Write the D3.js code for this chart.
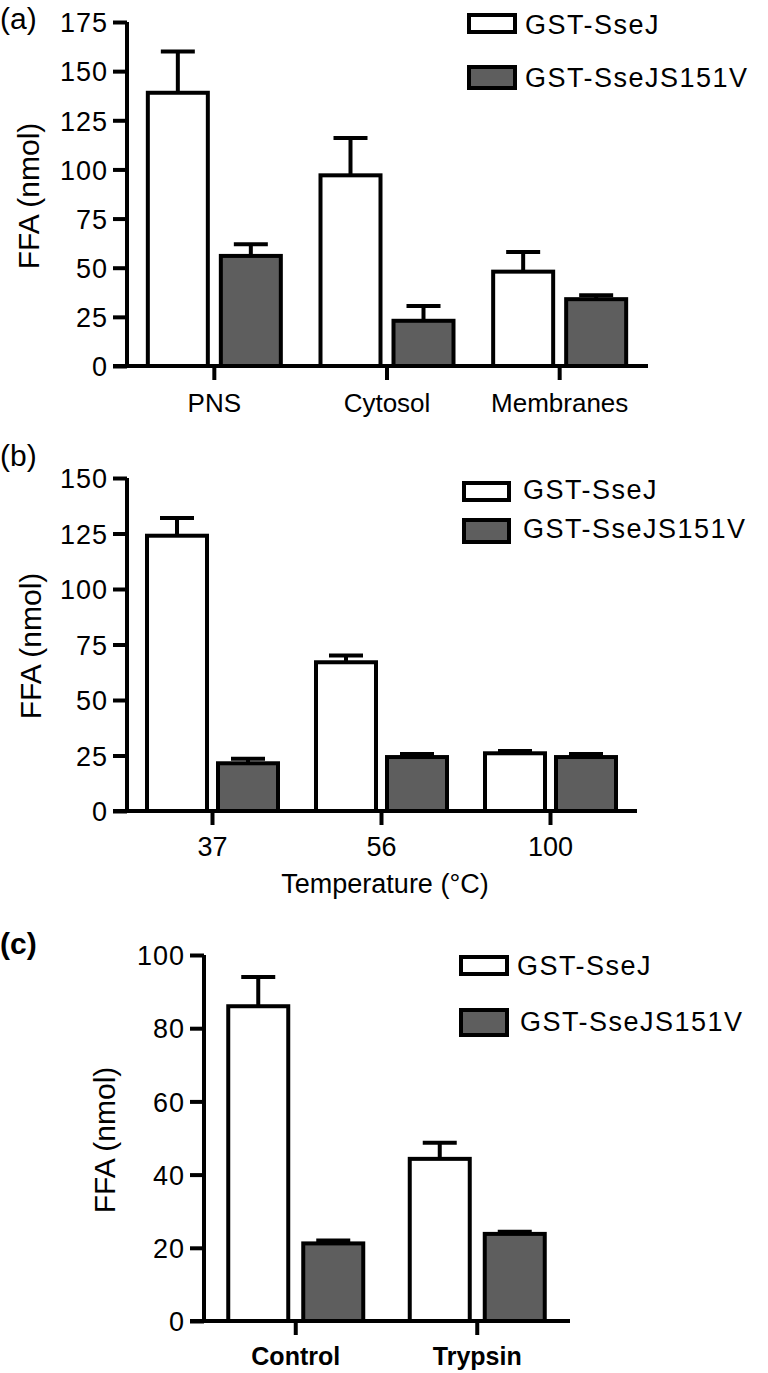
<!DOCTYPE html>
<html>
<head>
<meta charset="utf-8">
<script src="https://cdn.jsdelivr.net/npm/d3@7"></script>
<style>
  html, body { margin: 0; padding: 0; background: #fff; }
  svg { display: block; }
  text { font-family: Arial, "Liberation Sans", Helvetica, sans-serif; fill: #000; }
</style>
</head>
<body>
<svg id="chart" width="768" height="1373"></svg>
<script>
// ---------------- DATA ----------------
const seriesNames = ["GST-SseJ", "GST-SseJS151V"];

// Panel (a)
const catsA = ["PNS", "Cytosol", "Membranes"];
const sseJ_A = [139, 97, 48];
const sseJ_A_err = [21, 19, 10];
const s151v_A = [56, 23, 34];
const s151v_A_err = [6, 7.5, 2];
const ticksA = [0, 25, 50, 75, 100, 125, 150, 175];

// Panel (b)
const catsB = ["37", "56", "100"];
const sseJ_B = [124, 67, 26];
const sseJ_B_err = [8, 3, 1];
const s151v_B = [21.5, 24.3, 24.3];
const s151v_B_err = [2, 1.4, 1.4];
const ticksB = [0, 25, 50, 75, 100, 125, 150];

// Panel (c)
const catsC = ["Control", "Trypsin"];
const sseJ_C = [86, 44.3];
const sseJ_C_err = [8, 4.4];
const s151v_C = [21.2, 23.8];
const s151v_C_err = [0.8, 0.6];
const ticksC = [0, 20, 40, 60, 80, 100];

const yTitle = "FFA (nmol)";
const xTitleB = "Temperature (°C)";

// ---------------- STYLE ----------------
const fills = ["#ffffff", "#5e5e5e"];
const SW = 4; // stroke width
const svg = d3.select("#chart");

function drawPanel(p) {
  const g = svg.append("g");
  const y = d3.scaleLinear().domain([0, d3.max(p.ticks)]).range([p.y0, p.y1]);
  const x = d3.scaleBand().domain(p.cats).range([p.axisX + 1, p.xEnd]).padding(0);
  const xs = d3.scaleBand().domain(seriesNames).range([-p.off * 2, p.off * 2]);
  const barW = p.barW;

  const rows = p.cats.map((c, i) => ({
    cat: c,
    vals: [
      { s: seriesNames[0], v: p.v1[i], e: p.e1[i] },
      { s: seriesNames[1], v: p.v2[i], e: p.e2[i] }
    ]
  }));

  // Error bars (drawn first so bar outline sits on top)
  rows.forEach(r => {
    r.vals.forEach((d, j) => {
      const cx = x(r.cat) + x.bandwidth() / 2 + xs(d.s) + xs.bandwidth() / 2;
      g.append("line")
        .attr("x1", cx).attr("x2", cx)
        .attr("y1", y(d.v)).attr("y2", y(d.v + d.e))
        .attr("stroke", "#000").attr("stroke-width", SW);
      g.append("line")
        .attr("x1", cx - p.capW / 2).attr("x2", cx + p.capW / 2)
        .attr("y1", y(d.v + d.e)).attr("y2", y(d.v + d.e))
        .attr("stroke", "#000").attr("stroke-width", SW);
    });
  });

  // Bars
  rows.forEach(r => {
    r.vals.forEach((d, j) => {
      const cx = x(r.cat) + x.bandwidth() / 2 + xs(d.s) + xs.bandwidth() / 2;
      g.append("rect")
        .attr("x", cx - barW / 2)
        .attr("width", barW)
        .attr("y", y(d.v))
        .attr("height", y(0) - y(d.v))
        .attr("fill", fills[j])
        .attr("stroke", "#000")
        .attr("stroke-width", SW);
    });
  });

  // Y axis
  const yAxis = d3.axisLeft(y).tickValues(p.ticks).tickSize(p.tick).tickPadding(5).tickSizeOuter(0);
  const ya = g.append("g").attr("transform", `translate(${p.axisX},0)`).call(yAxis);
  ya.select(".domain").attr("stroke", "#000").attr("stroke-width", SW)
    .attr("d", `M0,${y(d3.max(p.ticks))}V${y(0)}`);
  ya.selectAll(".tick line").attr("stroke", "#000").attr("stroke-width", SW);
  ya.selectAll(".tick text")
    .style("font-size", p.tickFont + "px")
    .style("letter-spacing", p.tickLS + "px")
    .attr("dy", "0.36em");

  // X axis
  const xAxis = d3.axisBottom(x).tickSize(p.tick).tickPadding(p.xPad).tickSizeOuter(0);
  const xa = g.append("g").attr("transform", `translate(0,${p.y0})`).call(xAxis);
  xa.select(".domain").attr("stroke", "#000").attr("stroke-width", SW)
    .attr("d", `M${p.axisX - p.tick},0H${p.xEnd + 2}`);
  xa.selectAll(".tick line").attr("stroke", "#000").attr("stroke-width", SW);
  xa.selectAll(".tick text")
    .style("font-size", p.xFont + "px")
    .style("font-weight", p.xBold ? "bold" : "normal")
    .attr("dy", "0.71em");

  // Y title
  g.append("text")
    .attr("transform", `translate(${p.titleX},${p.titleY}) rotate(-90)`)
    .attr("text-anchor", "middle")
    .attr("dominant-baseline", "central")
    .style("font-size", "30px")
    .text(yTitle);

  // Panel label
  g.append("text")
    .attr("x", 0).attr("y", p.labelY)
    .style("font-size", "30px")
    .style("font-weight", p.labelBold ? "bold" : "normal")
    .text(p.label);

  // Legend
  p.legend.forEach((L, j) => {
    g.append("rect")
      .attr("x", L.bx).attr("y", L.by)
      .attr("width", L.bw).attr("height", L.bh)
      .attr("fill", fills[j]).attr("stroke", "#000").attr("stroke-width", SW);
    g.append("text")
      .attr("x", L.tx).attr("y", L.ty)
      .style("font-size", "27px")
      .style("letter-spacing", "1.5px")
      .text(seriesNames[j]);
  });

  return { g, x, y };
}

// Panel (a)
drawPanel({
  cats: catsA, v1: sseJ_A, e1: sseJ_A_err, v2: s151v_A, e2: s151v_A_err, ticks: ticksA,
  y0: 366, y1: 22, axisX: 127, xEnd: 646, off: 36.5, barW: 60, capW: 34,
  tick: 14, tickFont: 27, tickLS: 1, xFont: 26, xPad: 14, xBold: false,
  titleX: 28, titleY: 196, label: "(a)", labelY: 29, labelBold: false,
  legend: [
    { bx: 469, by: 15, bw: 46, bh: 17, tx: 525, ty: 34 },
    { bx: 469, by: 67, bw: 46, bh: 21, tx: 525, ty: 87 }
  ]
});

// Panel (b)
const pb = drawPanel({
  cats: catsB, v1: sseJ_B, e1: sseJ_B_err, v2: s151v_B, e2: s151v_B_err, ticks: ticksB,
  y0: 811, y1: 478, axisX: 127, xEnd: 635, off: 35.5, barW: 60, capW: 34,
  tick: 14, tickFont: 27, tickLS: 1, xFont: 27, xPad: 12, xBold: false,
  titleX: 30, titleY: 646, label: "(b)", labelY: 466, labelBold: false,
  legend: [
    { bx: 464, by: 483, bw: 45, bh: 17, tx: 523, ty: 499 },
    { bx: 464, by: 520, bw: 45, bh: 22, tx: 523, ty: 538 }
  ]
});
pb.g.append("text")
  .attr("x", 385).attr("y", 893)
  .attr("text-anchor", "middle")
  .style("font-size", "27px")
  .text(xTitleB);

// Panel (c)
drawPanel({
  cats: catsC, v1: sseJ_C, e1: sseJ_C_err, v2: s151v_C, e2: s151v_C_err, ticks: ticksC,
  y0: 1321, y1: 955, axisX: 204, xEnd: 568, off: 37.5, barW: 60, capW: 34,
  tick: 14, tickFont: 27, tickLS: 1, xFont: 25, xPad: 12, xBold: true,
  titleX: 104, titleY: 1140, label: "(c)", labelY: 954, labelBold: true,
  legend: [
    { bx: 461, by: 957, bw: 46, bh: 17, tx: 517, ty: 975 },
    { bx: 461, by: 1010, bw: 46, bh: 25, tx: 520, ty: 1031 }
  ]
});
</script>
</body>
</html>
